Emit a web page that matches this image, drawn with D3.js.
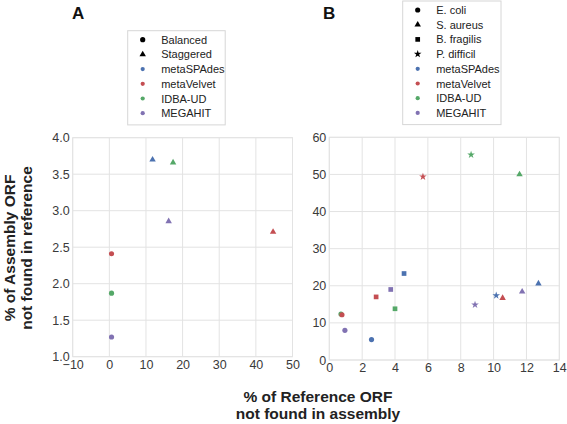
<!DOCTYPE html>
<html><head><meta charset="utf-8">
<script src="https://cdn.jsdelivr.net/npm/d3@7"></script>
<style>body{margin:0;background:#fff;} svg{display:block;font-family:"Liberation Sans",Arial,sans-serif;}</style>
</head><body>
<svg id="c" width="567" height="424"></svg>
<script>
const assemblers = ["metaSPAdes","metaVelvet","IDBA-UD","MEGAHIT"];
const colors = ["#4C72B0","#C44E52","#55A868","#8172B2"];
const shapesA = ["Balanced","Staggered"];
const shapesB = ["E. coli","S. aureus","B. fragilis","P. difficil"];

// Panel A data: [assembler, type, x, y]
const pointsA = [
  ["metaVelvet","Balanced",0.6,2.41],
  ["IDBA-UD","Balanced",0.6,1.87],
  ["MEGAHIT","Balanced",0.6,1.27],
  ["metaSPAdes","Staggered",11.8,3.70],
  ["IDBA-UD","Staggered",17.4,3.66],
  ["MEGAHIT","Staggered",16.2,2.855],
  ["metaVelvet","Staggered",44.7,2.71]
];
// Panel B data: [assembler, organism, x, y]
const pointsB = [
  ["IDBA-UD","E. coli",0.71,12.4],
  ["metaVelvet","E. coli",0.77,12.2],
  ["MEGAHIT","E. coli",0.95,8.0],
  ["metaSPAdes","E. coli",2.57,5.5],
  ["metaVelvet","B. fragilis",2.85,17.0],
  ["MEGAHIT","B. fragilis",3.74,19.0],
  ["IDBA-UD","B. fragilis",4.0,13.8],
  ["metaSPAdes","B. fragilis",4.55,23.3],
  ["MEGAHIT","P. difficil",8.87,14.9],
  ["metaSPAdes","P. difficil",10.16,17.4],
  ["metaVelvet","P. difficil",5.7,49.4],
  ["IDBA-UD","P. difficil",8.63,55.3],
  ["metaVelvet","S. aureus",10.55,16.7],
  ["MEGAHIT","S. aureus",11.74,18.4],
  ["metaSPAdes","S. aureus",12.73,20.6],
  ["IDBA-UD","S. aureus",11.58,50.0]
];
const xTicksA = [-10,0,10,20,30,40,50];
const yTicksA = [1.0,1.5,2.0,2.5,3.0,3.5,4.0];
const xTicksB = [0,2,4,6,8,10,12,14];
const yTicksB = [0,10,20,30,40,50,60];

const svg = d3.select("#c");
const color = d3.scaleOrdinal().domain(assemblers).range(colors);
const symMap = {
  "Balanced": d3.symbolCircle, "Staggered": d3.symbolTriangle,
  "E. coli": d3.symbolCircle, "S. aureus": d3.symbolTriangle,
  "B. fragilis": d3.symbolSquare, "P. difficil": d3.symbolStar
};
const symSize = {"Balanced":21,"Staggered":18,"E. coli":21,"S. aureus":18,"B. fragilis":22,"P. difficil":18};

function panel(cfg){
  const x = d3.scaleLinear().domain(cfg.xd).range([cfg.l,cfg.r]);
  const y = d3.scaleLinear().domain(cfg.yd).range([cfg.b,cfg.t]);
  const g = svg.append("g");
  g.append("g").selectAll("line").data(cfg.xt).join("line")
    .attr("x1",d=>x(d)).attr("x2",d=>x(d)).attr("y1",cfg.t).attr("y2",cfg.b)
    .attr("stroke","#e3e3e3").attr("stroke-width",1);
  g.append("g").selectAll("line").data(cfg.yt).join("line")
    .attr("y1",d=>y(d)).attr("y2",d=>y(d)).attr("x1",cfg.l).attr("x2",cfg.r)
    .attr("stroke","#e3e3e3").attr("stroke-width",1);
  g.append("rect").attr("x",cfg.l).attr("y",cfg.t).attr("width",cfg.r-cfg.l).attr("height",cfg.b-cfg.t)
    .attr("fill","none").attr("stroke","#e3e3e3");
  const xa = g.append("g").attr("transform",`translate(0,${cfg.b})`)
    .call(d3.axisBottom(x).tickValues(cfg.xt).tickSize(0).tickPadding(3).tickFormat(d=>d<0?"\u2212"+Math.abs(d):d));
  const ya = g.append("g").attr("transform",`translate(${cfg.l},0)`)
    .call(d3.axisLeft(y).tickValues(cfg.yt).tickSize(0).tickPadding(3).tickFormat(cfg.yf));
  [xa,ya].forEach(a=>{a.select(".domain").remove();
    a.selectAll("text").attr("font-size",12.5).attr("fill","#3a3a3a").attr("font-family","Liberation Sans, Arial, sans-serif");});
  g.append("g").selectAll("path").data(cfg.pts).join("path")
    .attr("transform",d=>`translate(${x(d[2])},${y(d[3])})`)
    .attr("d",d=>d3.symbol().type(symMap[d[1]]).size(symSize[d[1]])())
    .attr("fill",d=>color(d[0]));
  svg.append("text").attr("x",cfg.tx).attr("y",19).attr("font-size",17).attr("font-weight","bold")
    .attr("fill","#111").text(cfg.title);
  const items = cfg.shapes.map(s=>({s,shape:s,c:"#000"})).concat(assemblers.map(a=>({s:a,shape:null,c:color(a)})));
  const lg = svg.append("g");
  const step = 14.7;
  lg.append("rect").attr("x",cfg.lx).attr("y",cfg.ly).attr("width",cfg.lw)
    .attr("height",items.length*step+6).attr("fill","#fff").attr("stroke","#d6d6d6");
  items.forEach((it,i)=>{
    const cy = cfg.ly+9+i*step;
    lg.append("path").attr("transform",`translate(${cfg.lx+15},${cy})`)
      .attr("d",d3.symbol().type(it.shape?symMap[it.shape]:d3.symbolCircle).size(it.shape?symSize[it.shape]:14)())
      .attr("fill",it.c);
    lg.append("text").attr("x",cfg.lx+33.5).attr("y",cy+4).attr("font-size",11).attr("fill","#222").text(it.s);
  });
}

panel({xd:[-10,50],yd:[1,4],l:72.7,r:292.5,t:137.7,b:356.7,xt:xTicksA,yt:yTicksA,pts:pointsA,
  yf:d3.format(".1f"),title:"A",tx:72,shapes:shapesA,lx:127.7,ly:30.7,lw:97.5});
panel({xd:[0,14],yd:[0,60],l:329.3,r:559.3,t:137.3,b:360,xt:xTicksB,yt:yTicksB,pts:pointsB,
  yf:d3.format("d"),title:"B",tx:323,shapes:shapesB,lx:402.7,ly:1,lw:98.3});

const yl = svg.append("text").attr("transform","translate(18,248) rotate(-90)")
  .attr("text-anchor","middle").attr("font-size",15.5).attr("font-weight","bold").attr("fill","#222");
yl.append("tspan").attr("x",0).attr("dy",-3).text("% of Assembly ORF");
yl.append("tspan").attr("x",0).attr("dy",17).text("not found in reference");
const xl = svg.append("text").attr("text-anchor","middle").attr("font-size",15.5).attr("font-weight","bold").attr("fill","#222");
xl.append("tspan").attr("x",318).attr("y",402).text("% of Reference ORF");
xl.append("tspan").attr("x",318).attr("y",419).text("not found in assembly");
</script>
</body></html>
